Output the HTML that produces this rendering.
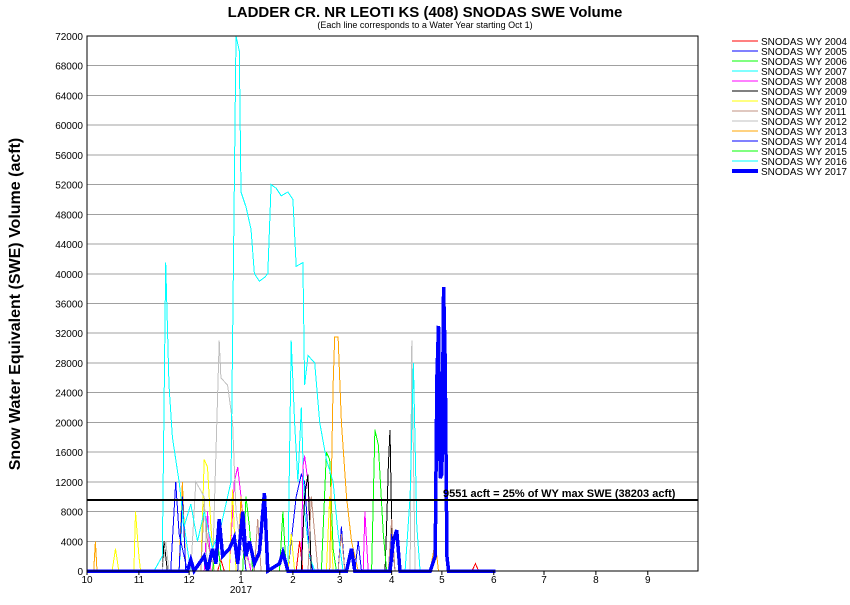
<!DOCTYPE html>
<html><head><meta charset="utf-8"><style>
body{margin:0;background:#fff;font-family:"Liberation Sans",sans-serif}
svg text{font-family:"Liberation Sans",sans-serif}
</style></head><body>
<svg id="chart" width="850" height="600" xmlns="http://www.w3.org/2000/svg">
<text x="425" y="17" text-anchor="middle" font-size="15" font-weight="bold">LADDER CR. NR LEOTI KS (408) SNODAS SWE Volume</text>
<text x="425" y="28" text-anchor="middle" font-size="9">(Each line corresponds to a Water Year starting Oct 1)</text>
<text transform="translate(20,304) rotate(-90)" text-anchor="middle" font-size="16" font-weight="bold">Snow Water Equivalent (SWE) Volume (acft)</text>
<g id="grid" shape-rendering="crispEdges"></g><g id="series" shape-rendering="crispEdges"></g><g id="axes"></g><g id="legend" shape-rendering="crispEdges"></g>
</svg>
<script>
const yTicks=[0,4000,8000,12000,16000,20000,24000,28000,32000,36000,40000,44000,48000,52000,56000,60000,64000,68000,72000];
const monthLabels=["10","11","12","1","2","3","4","5","6","7","8","9"];
const monthStartDays=[0,31,61,92,123,151,182,212,243,273,304,335];
const threshold=9551;
const maxSwe=38203;
const names=["SNODAS WY 2004","SNODAS WY 2005","SNODAS WY 2006","SNODAS WY 2007","SNODAS WY 2008","SNODAS WY 2009","SNODAS WY 2010","SNODAS WY 2011","SNODAS WY 2012","SNODAS WY 2013","SNODAS WY 2014","SNODAS WY 2015","SNODAS WY 2016","SNODAS WY 2017"];
const colors=["#ff0000","#0000ff","#00ff00","#00ffff","#ff00ff","#000000","#ffff00","#c09080","#c0c0c0","#ffa500","#0000ff","#00ff00","#00ffff","#0000ff"];
const wy2004=[[0,0],[78,0],[80,1500],[82,0],[125,0],[127,4000],[129,0],[230,0],[232,1000],[234,0],[300,0]];
const wy2005=[[0,0],[50,0],[53,12000],[55,5000],[58,2000],[60,0],[120,0],[125,10000],[128,13000],[130,12000],[133,2000],[135,0],[150,0],[152,6000],[154,0],[180,0],[182,5000],[184,0],[300,0]];
const wy2006=[[0,0],[93,0],[95,10000],[97,6000],[99,0],[140,0],[143,16000],[145,15000],[147,3000],[149,0],[300,0]];
const wy2007=[[0,0],[55,0],[57,8000],[60,3000],[62,0],[120,0],[122,31000],[124,20000],[126,12000],[128,22000],[130,8000],[133,2000],[136,0],[300,0]];
const wy2008=[[0,0],[70,0],[72,8000],[74,0],[85,0],[88,12000],[90,14000],[92,10000],[95,3000],[98,0],[128,0],[129,14000],[130,15500],[132,12000],[134,0],[165,0],[166,8000],[168,0],[300,0]];
const wy2009=[[0,0],[45,0],[46,4000],[48,0],[128,0],[130,10000],[132,13000],[134,0],[178,0],[179,6000],[180,14000],[181,19000],[182,6000],[184,0],[300,0]];
const wy2010=[[0,0],[15,0],[17,3000],[19,0],[28,0],[29,8000],[31,2000],[32,0],[68,0],[70,15000],[72,14000],[74,6000],[76,0],[85,0],[87,11000],[89,0],[120,0],[122,5000],[124,0],[143,0],[145,10000],[147,0],[300,0]];
const wy2011=[[0,0],[68,0],[70,9000],[72,4000],[76,0],[100,0],[102,7000],[104,0],[132,0],[134,10000],[136,5000],[138,0],[150,0],[152,5000],[154,0],[180,0],[182,7000],[184,0],[300,0]];
const wy2012=[[0,0],[45,0],[47,4000],[49,0],[62,0],[65,12000],[70,10000],[72,0],[75,0],[79,31000],[80,26000],[84,25000],[87,20000],[89,8000],[92,3000],[100,0],[193,0],[194,31000],[196,0],[300,0]];
const wy2013=[[0,0],[4,0],[5,4000],[6,0],[55,0],[57,12000],[59,0],[90,0],[92,10000],[95,0],[145,0],[147,25000],[148,31500],[150,31500],[152,20000],[155,10000],[158,4000],[162,0],[205,0],[208,4000],[210,0],[300,0]];
const wy2014=[[0,0],[55,0],[57,10000],[59,0],[90,0],[92,6000],[95,0],[160,0],[162,4000],[164,0],[300,0]];
const wy2015=[[0,0],[75,0],[78,4000],[80,0],[115,0],[117,8000],[119,0],[170,0],[172,19000],[174,17000],[177,5000],[179,0],[300,0]];
const wy2016=[[0,0],[40,0],[45,2000],[47,41500],[49,25000],[51,18000],[55,12000],[58,6000],[62,9000],[66,4000],[70,8000],[75,3000],[80,6000],[86,12000],[89,72000],[91,70000],[92,51000],[95,49000],[98,46000],[100,40000],[103,39000],[106,39500],[108,40000],[110,52000],[113,51500],[116,50500],[120,51000],[123,50000],[125,41000],[129,41500],[130,25000],[132,29000],[136,28000],[139,20000],[143,15000],[147,12000],[150,5000],[153,0],[190,0],[193,10000],[195,28000],[197,6000],[199,0],[300,0]];
const wy2017=[[0,0],[60,0],[62,1500],[64,0],[70,2000],[72,0],[75,3000],[77,1000],[79,7000],[81,2000],[85,3000],[88,4500],[90,1000],[93,8000],[95,2000],[97,4000],[100,1000],[103,2500],[106,10500],[108,0],[115,1000],[117,2500],[120,0],[155,0],[158,3000],[160,0],[181,0],[183,4000],[185,5500],[187,0],[205,0],[208,2000],[209,26000],[210,33000],[211,12500],[212,13000],[213,38200],[214,28000],[215,2000],[216,0],[244,0]];
const allSeries=[wy2004,wy2005,wy2006,wy2007,wy2008,wy2009,wy2010,wy2011,wy2012,wy2013,wy2014,wy2015,wy2016,wy2017];

const NS="http://www.w3.org/2000/svg";
const L=87,R=698,T=36,B=571;
const xS=d=>L+d*(R-L)/365;
const yS=v=>B-v*(B-T)/72000;
function mk(tag,attrs,parent,txt){const e=document.createElementNS(NS,tag);for(const k in attrs)e.setAttribute(k,attrs[k]);if(txt!==undefined)e.textContent=txt;parent.appendChild(e);return e;}
const grid=document.getElementById('grid'),axes=document.getElementById('axes'),ser=document.getElementById('series'),leg=document.getElementById('legend');
mk('rect',{x:L,y:T,width:R-L,height:B-T,fill:'#fff'},grid);
yTicks.forEach(v=>{
  const g=mk('line',{x1:L,x2:R,y1:yS(v),y2:yS(v),stroke:'#a0a0a0','stroke-width':1},grid);
  
  
  const t=mk('text',{x:L-4,y:yS(v)+4,'text-anchor':'end','font-size':10},axes,String(v));
  
  
});
monthLabels.forEach((m,i)=>{
  const x=xS(monthStartDays[i]);
  mk('line',{x1:x,x2:x,y1:B,y2:B+4,stroke:'#000'},axes);
  const t=mk('text',{x:x,y:B+12,'text-anchor':'middle','font-size':10},axes,m);
  
  
});
const yr=mk('text',{x:xS(92),y:B+22,'text-anchor':'middle','font-size':10},axes,'2017');


allSeries.forEach((s,i)=>{
  const pts=s.slice().sort((a,b)=>a[0]-b[0]).map(p=>xS(p[0]).toFixed(1)+','+yS(p[1]).toFixed(1)).join(' ');
  const pl=mk('polyline',{points:pts,fill:'none',stroke:colors[i],'stroke-width':i===13?3.5:1,'stroke-linejoin':'miter'},ser);
  
  
});
const th=mk('line',{x1:L,x2:R,y1:yS(threshold),y2:yS(threshold),stroke:'#000','stroke-width':2},ser);


const tl=mk('text',{x:443,y:yS(threshold)-3,'font-size':11,'font-weight':'bold'},axes,threshold+' acft = 25% of WY max SWE ('+maxSwe+' acft)');


mk('rect',{x:L,y:T,width:R-L,height:B-T,fill:'none',stroke:'#000','stroke-width':1,'shape-rendering':'crispEdges'},axes);
names.forEach((n,i)=>{
  const y=41+i*10;
  const g=mk('g',{},leg);
  
  
  mk('line',{x1:732,x2:758,y1:y,y2:y,stroke:colors[i],'stroke-width':i===13?4:1},g);
  mk('text',{x:761,y:y+4,'font-size':10},g,n);
});
</script>
</body></html>
